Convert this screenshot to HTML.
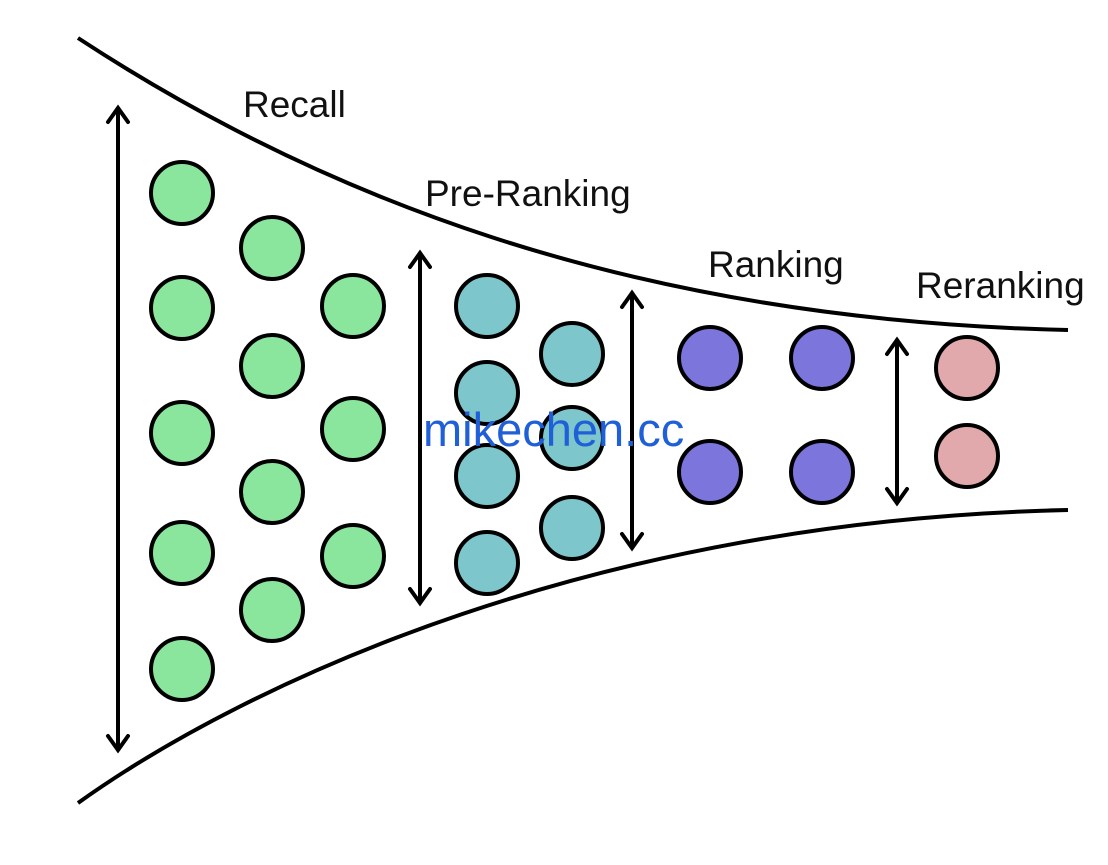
<!DOCTYPE html>
<html><head><style>body{margin:0;background:#fff}</style></head><body>
<svg width="1108" height="860" xmlns="http://www.w3.org/2000/svg" font-family="Liberation Sans, sans-serif">
<rect width="1108" height="860" fill="#fff"/>
<g fill="none" stroke="#000" stroke-width="4">
<path d="M78,38 C310,190 620,320 1068,330"/>
<path d="M78,803 C250,680 600,520 1068,510"/>
</g>
<g stroke="#000" stroke-width="4" fill="none" stroke-linecap="round">
<path d="M118,108 V750 M108,122 L118,108 L128,122 M108,736 L118,750 L128,736"/>
<path d="M420,253 V603 M410,267 L420,253 L430,267 M410,589 L420,603 L430,589"/>
<path d="M632,293 V548 M622,307 L632,293 L642,307 M622,534 L632,548 L642,534"/>
<path d="M897,340 V503 M887,354 L897,340 L907,354 M887,489 L897,503 L907,489"/>
</g>
<g stroke="#000" stroke-width="4" fill="#8ae69d">
<circle cx="182" cy="193" r="31"/><circle cx="182" cy="308" r="31"/><circle cx="182" cy="433" r="31"/><circle cx="182" cy="553" r="31"/><circle cx="182" cy="669" r="31"/>
<circle cx="272" cy="248" r="31"/><circle cx="272" cy="366" r="31"/><circle cx="272" cy="492" r="31"/><circle cx="272" cy="610" r="31"/>
<circle cx="353" cy="306" r="31"/><circle cx="353" cy="429" r="31"/><circle cx="353" cy="556" r="31"/>
</g>
<g stroke="#000" stroke-width="4" fill="#7cc6cc">
<circle cx="487" cy="306" r="31"/><circle cx="487" cy="393" r="31"/><circle cx="487" cy="476" r="31"/><circle cx="487" cy="563" r="31"/>
<circle cx="572" cy="354" r="31"/><circle cx="572" cy="438" r="31"/><circle cx="572" cy="528" r="31"/>
</g>
<g stroke="#000" stroke-width="4" fill="#7b75dc">
<circle cx="710" cy="358" r="31"/><circle cx="710" cy="472" r="31"/><circle cx="822" cy="358" r="31"/><circle cx="822" cy="472" r="31"/>
</g>
<g stroke="#000" stroke-width="4" fill="#e2a9ac">
<circle cx="967" cy="368" r="31"/><circle cx="967" cy="456" r="31"/>
</g>
<g font-size="37" fill="#111">
<text x="243" y="117">Recall</text>
<text x="425" y="206">Pre-Ranking</text>
<text x="708" y="277">Ranking</text>
<text x="916" y="298">Reranking</text>
</g>
<text x="423" y="446" font-size="47" fill="#1f5fd8">mikechen.cc</text>
</svg>
</body></html>
